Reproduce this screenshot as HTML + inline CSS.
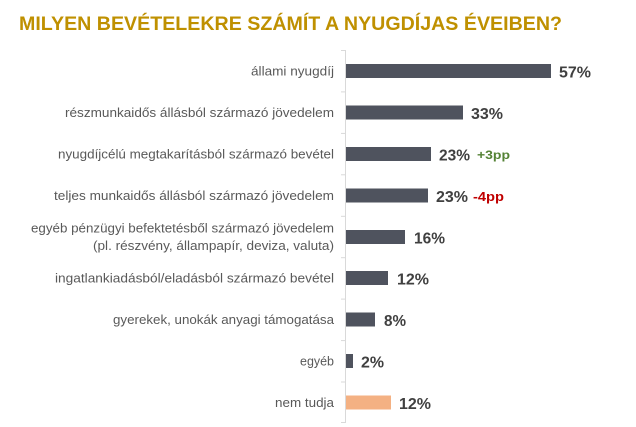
<!DOCTYPE html>
<html>
<head>
<meta charset="utf-8">
<style>
  html,body{margin:0;padding:0;background:#fff;}
  svg{display:block;}
  .t{font-family:"Liberation Sans",sans-serif;font-weight:bold;fill:#BF9000;font-size:19px;}
  .c{font-family:"Liberation Sans",sans-serif;fill:#595959;font-size:13px;}
  .v{font-family:"Liberation Sans",sans-serif;font-weight:bold;fill:#404040;font-size:16px;}
  .g{font-family:"Liberation Sans",sans-serif;font-weight:bold;fill:#548235;font-size:12px;}
  .r{font-family:"Liberation Sans",sans-serif;font-weight:bold;fill:#C00000;font-size:13px;}
</style>
</head>
<body>
<svg width="636" height="427" viewBox="0 0 636 427" xmlns="http://www.w3.org/2000/svg">
  <rect width="636" height="427" fill="#fff"/>
  <text class="t" x="19" y="30" textLength="543" lengthAdjust="spacingAndGlyphs">MILYEN BEVÉTELEKRE SZÁMÍT A NYUGDÍJAS ÉVEIBEN?</text>

  <!-- axis -->
  <g stroke="#D9D9D9" stroke-width="1">
    <line x1="345.5" y1="50" x2="345.5" y2="423"/>
    <line x1="341" y1="50.5" x2="345.5" y2="50.5"/>
    <line x1="341" y1="91.9" x2="345.5" y2="91.9"/>
    <line x1="341" y1="133.4" x2="345.5" y2="133.4"/>
    <line x1="341" y1="174.8" x2="345.5" y2="174.8"/>
    <line x1="341" y1="216.3" x2="345.5" y2="216.3"/>
    <line x1="341" y1="257.7" x2="345.5" y2="257.7"/>
    <line x1="341" y1="299.1" x2="345.5" y2="299.1"/>
    <line x1="341" y1="340.6" x2="345.5" y2="340.6"/>
    <line x1="341" y1="382" x2="345.5" y2="382"/>
    <line x1="341" y1="422.5" x2="345.5" y2="422.5"/>
  </g>

  <!-- bars -->
  <g fill="#4F535E">
    <rect x="346" y="64" width="205" height="14"/>
    <rect x="346" y="105.5" width="117" height="14"/>
    <rect x="346" y="147" width="85" height="14"/>
    <rect x="346" y="188.5" width="82" height="14"/>
    <rect x="346" y="230" width="59" height="14"/>
    <rect x="346" y="271" width="42" height="14"/>
    <rect x="346" y="312.5" width="29" height="14"/>
    <rect x="346" y="354" width="7" height="14"/>
  </g>
  <rect x="346" y="395.5" width="45" height="14" fill="#F4B183"/>

  <!-- category labels -->
  <g class="c" text-anchor="end">
    <text x="334" y="75.5" textLength="83" lengthAdjust="spacingAndGlyphs">állami nyugdíj</text>
    <text x="334" y="117" textLength="269" lengthAdjust="spacingAndGlyphs">részmunkaidős állásból származó jövedelem</text>
    <text x="334" y="158.5" textLength="276" lengthAdjust="spacingAndGlyphs">nyugdíjcélú megtakarításból származó bevétel</text>
    <text x="334" y="200" textLength="280" lengthAdjust="spacingAndGlyphs">teljes munkaidős állásból származó jövedelem</text>
    <text x="334" y="232.5" textLength="303" lengthAdjust="spacingAndGlyphs">egyéb pénzügyi befektetésből származó jövedelem</text>
    <text x="334" y="250" textLength="241" lengthAdjust="spacingAndGlyphs">(pl. részvény, állampapír, deviza, valuta)</text>
    <text x="334" y="282.5" textLength="279" lengthAdjust="spacingAndGlyphs">ingatlankiadásból/eladásból származó bevétel</text>
    <text x="334" y="324" textLength="221" lengthAdjust="spacingAndGlyphs">gyerekek, unokák anyagi támogatása</text>
    <text x="334" y="365.5" textLength="34" lengthAdjust="spacingAndGlyphs">egyéb</text>
    <text x="334" y="407" textLength="59" lengthAdjust="spacingAndGlyphs">nem tudja</text>
  </g>

  <!-- value labels -->
  <g class="v">
    <text x="559" y="77.5" textLength="32" lengthAdjust="spacingAndGlyphs">57%</text>
    <text x="471" y="119" textLength="32" lengthAdjust="spacingAndGlyphs">33%</text>
    <text x="439" y="160.5" textLength="31" lengthAdjust="spacingAndGlyphs">23%</text>
    <text x="436" y="202" textLength="32" lengthAdjust="spacingAndGlyphs">23%</text>
    <text x="414" y="243.5" textLength="31" lengthAdjust="spacingAndGlyphs">16%</text>
    <text x="397" y="284.5" textLength="32" lengthAdjust="spacingAndGlyphs">12%</text>
    <text x="384" y="326" textLength="22" lengthAdjust="spacingAndGlyphs">8%</text>
    <text x="361" y="367.5" textLength="23" lengthAdjust="spacingAndGlyphs">2%</text>
    <text x="399" y="409" textLength="32" lengthAdjust="spacingAndGlyphs">12%</text>
  </g>
  <text class="g" x="477" y="159" textLength="33" lengthAdjust="spacingAndGlyphs">+3pp</text>
  <text class="r" x="473" y="201" textLength="31" lengthAdjust="spacingAndGlyphs">-4pp</text>
</svg>
</body>
</html>
